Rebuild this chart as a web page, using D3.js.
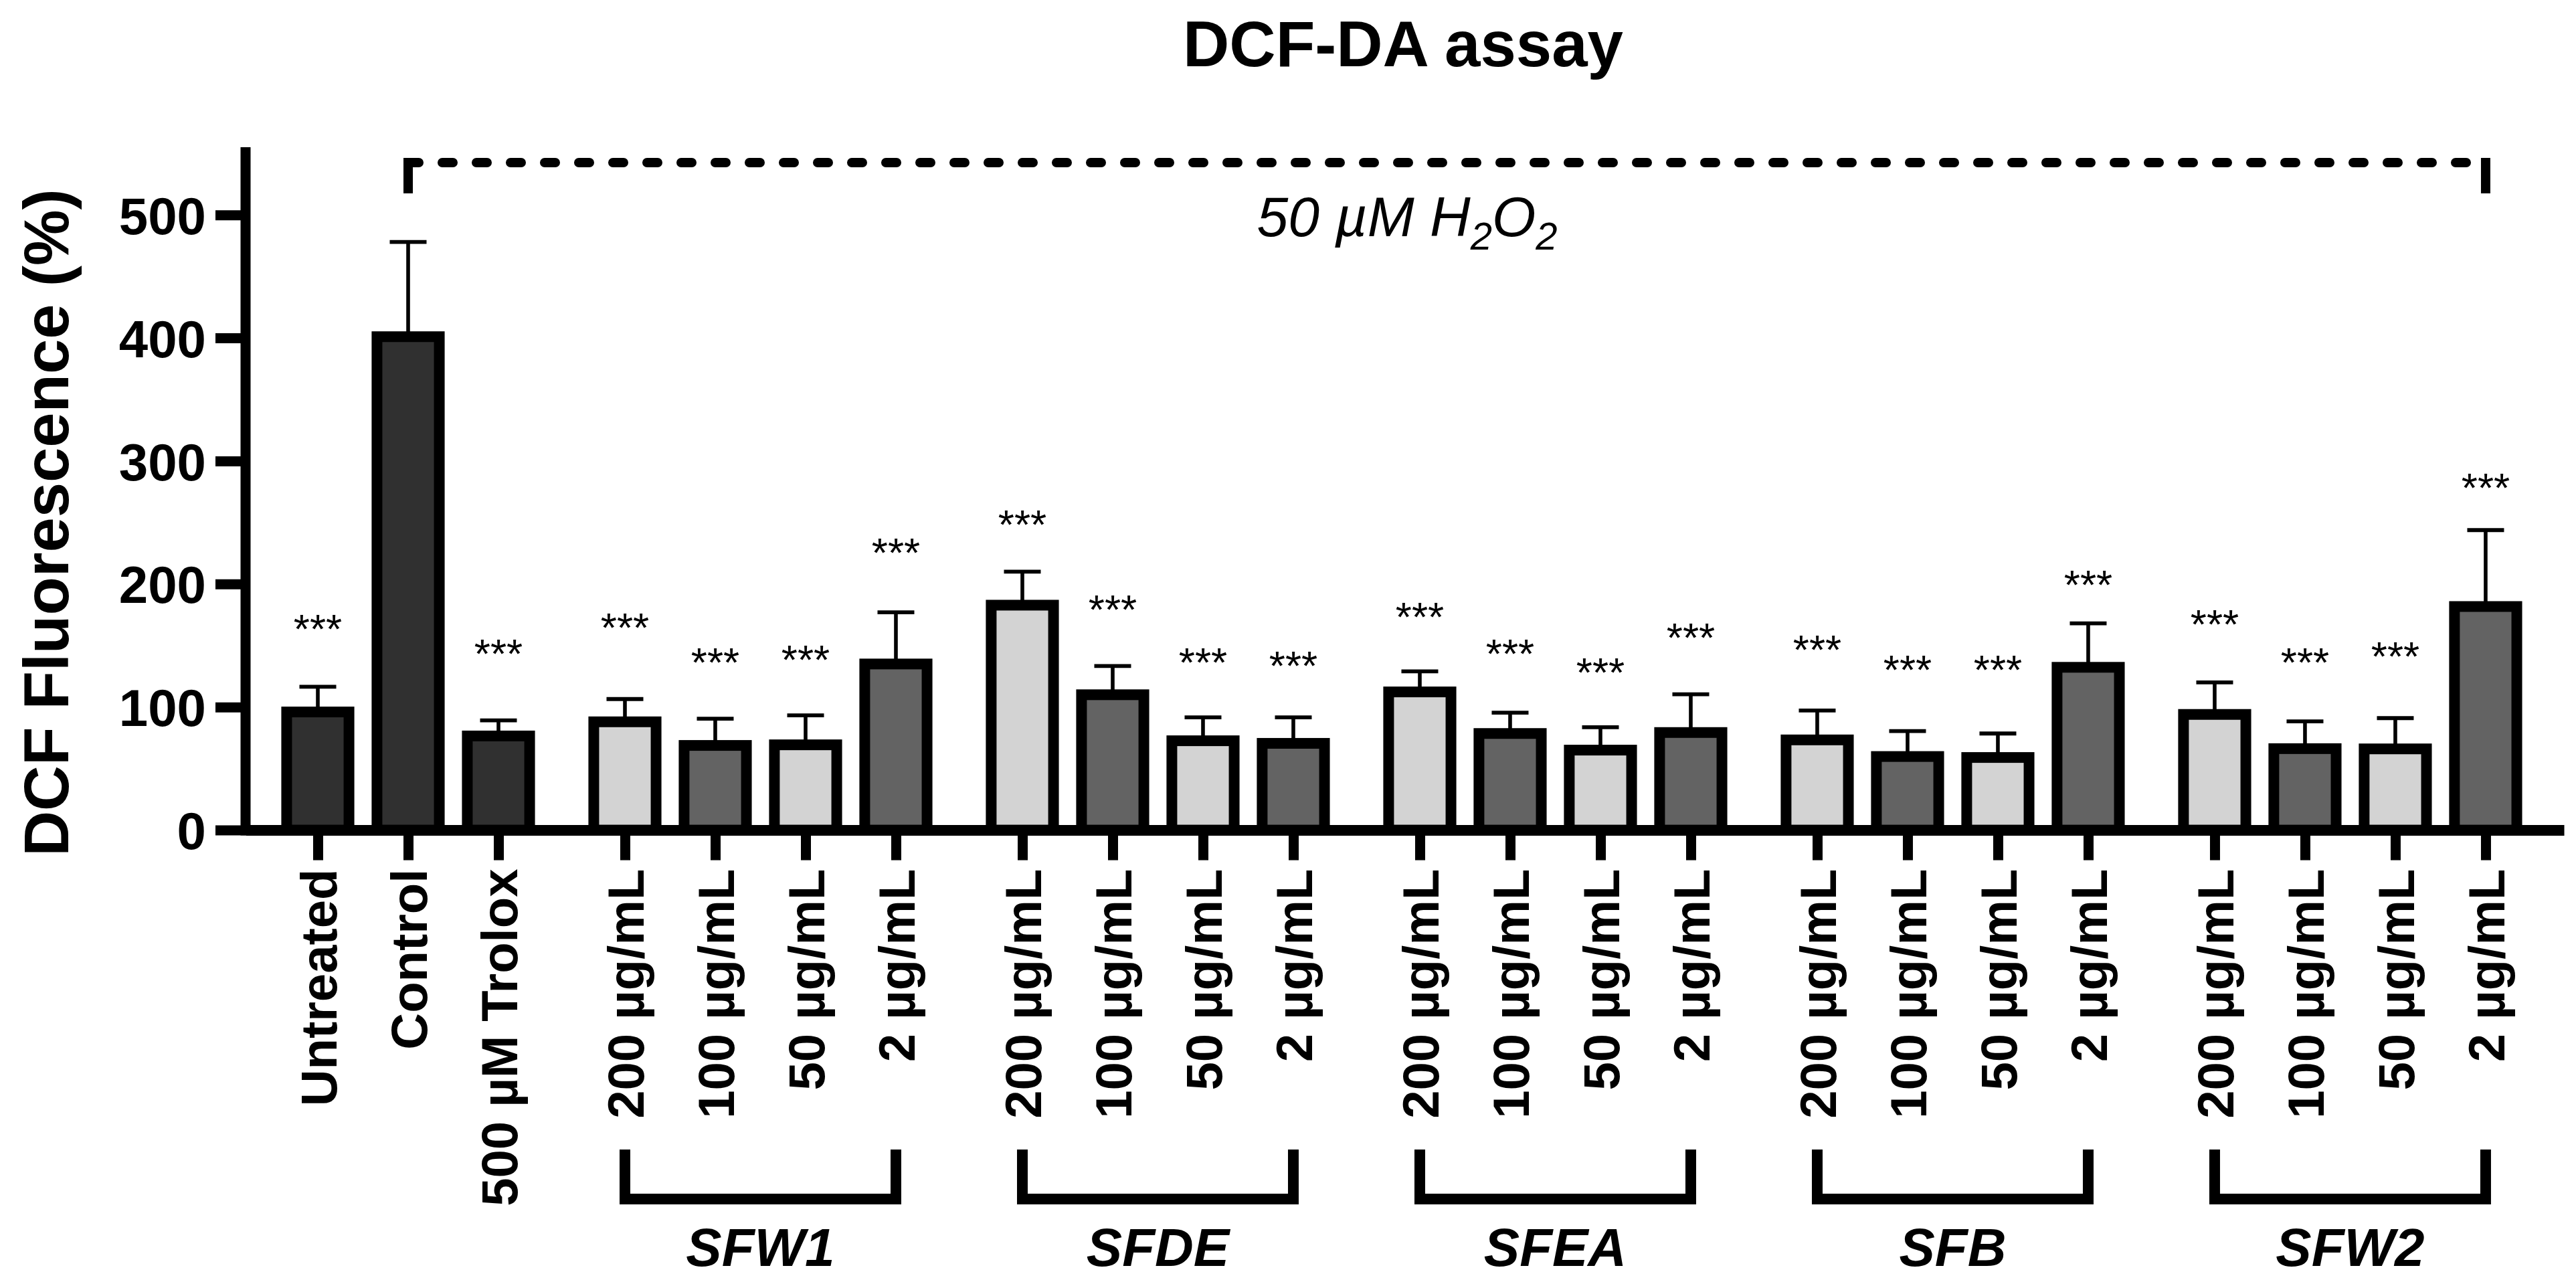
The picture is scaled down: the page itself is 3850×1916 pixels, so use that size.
<!DOCTYPE html>
<html>
<head>
<meta charset="utf-8">
<script src="https://cdn.jsdelivr.net/npm/d3@7"></script>
<style>
  body { margin: 0; background: #fff; }
  text { font-family: "Liberation Sans", Arial, sans-serif; fill: #000; }
</style>
</head>
<body>
<div id="chart"></div>
<script>
// Categories and groups
const baseCats = ["Untreated", "Control", "500 µM Trolox"];
const doses = ["200 µg/mL", "100 µg/mL", "50 µg/mL", "2 µg/mL"];
const extracts = ["SFW1", "SFDE", "SFEA", "SFB", "SFW2"];

// Mean DCF fluorescence (%) in the order: base, then each extract x doses
const means = [96, 401, 76.5,
  88, 68.8, 69.3, 135,
  182.8, 110, 72.6, 70.5,
  112.3, 78.5, 65, 79.3,
  73.3, 59.8, 59, 132.3,
  94, 66.2, 66, 181.7];

// SD (upper error bars only)
const sds = [20.5, 77, 12.7,
  18.5, 21.7, 23.9, 42,
  27.2, 23.4, 19, 21.1,
  16.7, 16.9, 18.6, 31.1,
  23.9, 20.7, 19.5, 35.7,
  26, 22.2, 25, 62.1];

// Level of the *** marks (in % units), null = none
const starLevels = [171, null, 151,
  172, 144, 146, 233,
  256, 187, 144, 141,
  181, 151, 136, 164,
  154, 138, 138, 207,
  175, 144, 149, 286];

const yTicks = [0, 100, 200, 300, 400, 500];

// build rows
const rows = [];
baseCats.forEach((c, i) => rows.push({ label: c, pos: i, kind: "base" }));
extracts.forEach((g, gi) => {
  doses.forEach((d, di) => {
    rows.push({ label: d, pos: 3.4 + gi * 4.4 + di, kind: di % 2 === 0 ? "light" : "mid", group: gi });
  });
});
rows.forEach((r, i) => {
  r.mean = means[i];
  r.sd = sds[i];
  r.star = starLevels[i];
});

const W = 3850, H = 1916;
const fills = { base: "#303030", light: "#d3d3d3", mid: "#636363" };

const svg = d3.select("#chart").append("svg")
  .attr("width", W)
  .attr("height", H)
  .style("background", "#fff");

const x = d3.scaleLinear().domain([-0.8, 24.867]).range([367, 3832]);
const y = d3.scaleLinear().domain([0, 555]).range([1240.6, 220]);
const step = x(1) - x(0);
const barW = step * 0.69;

// title
svg.append("text")
  .attr("x", 2097).attr("y", 99)
  .attr("text-anchor", "middle")
  .style("font-size", "96px").style("font-weight", "bold")
  .text("DCF-DA assay");

// y axis title
svg.append("text")
  .attr("transform", "translate(102,781) rotate(-90)")
  .attr("text-anchor", "middle")
  .style("font-size", "94px").style("font-weight", "bold")
  .text("DCF Fluorescence (%)");

/********** Bars **********/
const bars = svg.append("g");

bars.selectAll("line.err")
  .data(rows)
  .join("line")
  .attr("class", "err")
  .attr("x1", d => x(d.pos)).attr("x2", d => x(d.pos))
  .attr("y1", d => y(d.mean)).attr("y2", d => y(d.mean + d.sd))
  .attr("stroke", "#000").attr("stroke-width", 5.6);

bars.selectAll("line.cap")
  .data(rows)
  .join("line")
  .attr("class", "cap")
  .attr("x1", d => x(d.pos) - 27.5).attr("x2", d => x(d.pos) + 27.5)
  .attr("y1", d => y(d.mean + d.sd)).attr("y2", d => y(d.mean + d.sd))
  .attr("stroke", "#000").attr("stroke-width", 5.8);

bars.selectAll("rect")
  .data(rows)
  .join("rect")
  .attr("x", d => x(d.pos) - barW / 2)
  .attr("width", barW)
  .attr("y", d => y(d.mean))
  .attr("height", d => y(0) - y(d.mean))
  .attr("fill", d => fills[d.kind])
  .attr("stroke", "#000")
  .attr("stroke-width", 16);

bars.selectAll("text.star")
  .data(rows.filter(d => d.star != null))
  .join("text")
  .attr("class", "star")
  .attr("x", d => x(d.pos))
  .attr("y", d => y(d.star) + 35)
  .attr("text-anchor", "middle")
  .style("font-size", "62px")
  .text("***");

/********** Axes **********/
const yAxis = svg.append("g")
  .attr("transform", "translate(367,0)")
  .call(d3.axisLeft(y).tickValues(yTicks).tickSize(45).tickSizeOuter(0).tickPadding(14));
yAxis.attr("font-family", null);
yAxis.select(".domain")
  .attr("d", `M0,${y(0) + 8}V${y.range()[1]}`)
  .attr("stroke-width", 15);
yAxis.selectAll(".tick line").attr("stroke-width", 15);
yAxis.selectAll(".tick text")
  .attr("dy", "0.36em")
  .style("font-size", "78px").style("font-weight", "bold");

const xAxis = svg.append("g")
  .attr("transform", `translate(0,${y(0)})`)
  .call(d3.axisBottom(x)
    .tickValues(rows.map(d => d.pos))
    .tickFormat((d, i) => rows[i].label)
    .tickSize(45).tickSizeOuter(0));
xAxis.attr("font-family", null);
xAxis.select(".domain").attr("stroke-width", 16);
xAxis.selectAll(".tick line").attr("stroke-width", 15);
xAxis.selectAll(".tick text")
  .attr("transform", "rotate(-90)")
  .attr("x", -58).attr("y", 0)
  .attr("dy", "0.36em")
  .style("text-anchor", "end")
  .style("font-size", "76px").style("font-weight", "bold");

/********** H2O2 bracket **********/
const xL = x(rows[1].pos), xR = x(rows[rows.length - 1].pos);
const yB = 243;
svg.append("line")
  .attr("x1", xL).attr("x2", xR).attr("y1", yB).attr("y2", yB)
  .attr("stroke", "#000").attr("stroke-width", 14)
  .attr("stroke-linecap", "round")
  .attr("stroke-dasharray", "16 35");
[xL, xR].forEach(xx => {
  svg.append("line")
    .attr("x1", xx).attr("x2", xx).attr("y1", yB - 7).attr("y2", 289)
    .attr("stroke", "#000").attr("stroke-width", 14);
});

const h2o2 = svg.append("text")
  .attr("x", 2103).attr("y", 353)
  .attr("text-anchor", "middle")
  .style("font-size", "84px").style("font-style", "italic");
h2o2.append("tspan").text("50 µM H");
h2o2.append("tspan").attr("dy", 20).style("font-size", "58px").text("2");
h2o2.append("tspan").attr("dy", -20).text("O");
h2o2.append("tspan").attr("dy", 20).style("font-size", "58px").text("2");

/********** Extract group brackets **********/
extracts.forEach((g, gi) => {
  const members = rows.filter(r => r.group === gi);
  const x1 = x(members[0].pos), x2 = x(members[members.length - 1].pos);
  svg.append("path")
    .attr("d", `M${x1},1718V1792H${x2}V1718`)
    .attr("fill", "none")
    .attr("stroke", "#000")
    .attr("stroke-width", 16)
    .attr("stroke-linejoin", "miter");
  svg.append("text")
    .attr("x", (x1 + x2) / 2).attr("y", 1892)
    .attr("text-anchor", "middle")
    .style("font-size", "80px").style("font-weight", "bold").style("font-style", "italic")
    .text(g);
});
</script>
</body>
</html>
